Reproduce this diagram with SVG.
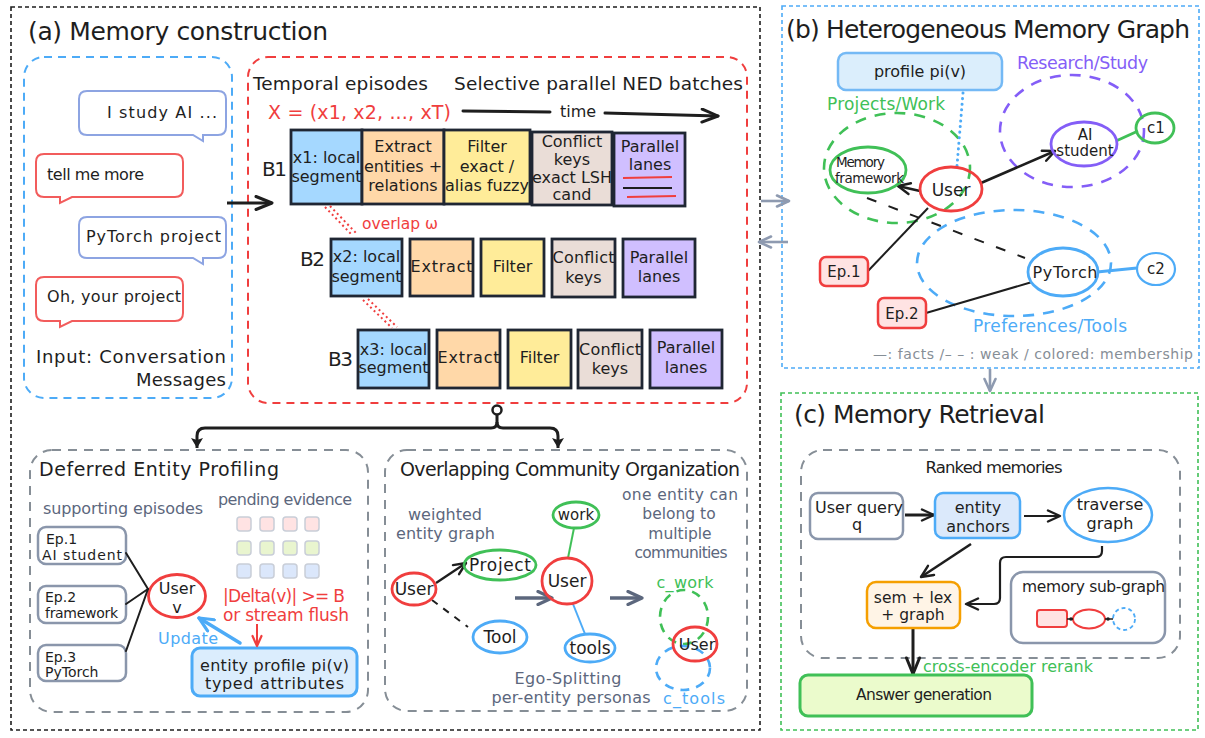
<svg xmlns="http://www.w3.org/2000/svg" width="1205" height="738" viewBox="0 0 1205 738">
  <defs>
    <style>
      text{font-family:"DejaVu Sans","Liberation Sans",sans-serif;fill:#1e1e1e;font-size:16px}
      .title{font-size:25px}
      .sub{font-size:19px}
      .lbl{font-size:20px}
      .sm{font-size:14px}
      .xs{font-size:13.5px}
      .mid{text-anchor:middle}
      .slate{fill:#5c677d}
      .red{fill:#f03e3e}
      .blue{fill:#4dabf7}
      .green{fill:#40c057}
      .purple{fill:#845ef7}
      .grey{fill:#868e96}
      .cell{stroke:#1f2633;stroke-width:2.8}
      .c-seg{fill:#a5d8ff}
      .c-ext{fill:#ffd8a8}
      .c-fil{fill:#ffec99}
      .c-con{fill:#eaddd7}
      .c-lan{fill:#d0bfff}
      .frame{fill:none;stroke-width:1.6;stroke-dasharray:4 3}
      .bubble{fill:#fff;stroke-width:2}
      .epbox{fill:#fff;stroke:#8a96ab;stroke-width:2.5}
      .wire{fill:none;stroke:#1e1e1e;stroke-width:2;stroke-linecap:round}
      .ring{fill:none;stroke-width:2.8}
      .ev{stroke:#c9ced8;stroke-width:1.5}
    </style>
    <marker id="ah" viewBox="0 0 16 14" refX="14" refY="7" markerWidth="16" markerHeight="14" markerUnits="userSpaceOnUse" orient="auto">
      <path d="M2,1.5 L14,7 L2,12.5" fill="none" stroke="#1e1e1e" stroke-width="2.4" stroke-linecap="round" stroke-linejoin="round"/>
    </marker>
    <marker id="ah-lg" viewBox="0 0 20 16" refX="18" refY="8" markerWidth="20" markerHeight="16" markerUnits="userSpaceOnUse" orient="auto">
      <path d="M2,1.5 L18,8 L2,14.5" fill="none" stroke="#1e1e1e" stroke-width="3" stroke-linecap="round" stroke-linejoin="round"/>
    </marker>
    <marker id="ah-fill" viewBox="0 0 12 14" refX="11" refY="7" markerWidth="12" markerHeight="14" markerUnits="userSpaceOnUse" orient="auto">
      <path d="M1,1 L11,7 L1,13 L3,7 Z" fill="#1e1e1e"/>
    </marker>
    <marker id="ah-grey" viewBox="0 0 16 14" refX="14" refY="7" markerWidth="16" markerHeight="14" markerUnits="userSpaceOnUse" orient="auto">
      <path d="M2,1.5 L14,7 L2,12.5" fill="none" stroke="#8e9ab0" stroke-width="2.6" stroke-linecap="round" stroke-linejoin="round"/>
    </marker>
    <marker id="ah-slate" viewBox="0 0 18 16" refX="16" refY="8" markerWidth="18" markerHeight="16" markerUnits="userSpaceOnUse" orient="auto">
      <path d="M2,1.5 L16,8 L2,14.5" fill="none" stroke="#5c677d" stroke-width="3.2" stroke-linecap="round" stroke-linejoin="round"/>
    </marker>
    <marker id="ah-blue" viewBox="0 0 18 16" refX="16" refY="8" markerWidth="18" markerHeight="16" markerUnits="userSpaceOnUse" orient="auto">
      <path d="M2,1.5 L16,8 L2,14.5" fill="none" stroke="#4dabf7" stroke-width="3.2" stroke-linecap="round" stroke-linejoin="round"/>
    </marker>
    <marker id="ah-red" viewBox="0 0 14 12" refX="12" refY="6" markerWidth="14" markerHeight="12" markerUnits="userSpaceOnUse" orient="auto">
      <path d="M2,1.5 L12,6 L2,10.5" fill="none" stroke="#f03e3e" stroke-width="2.2" stroke-linecap="round" stroke-linejoin="round"/>
    </marker>
  </defs>

  <rect width="1205" height="738" fill="#ffffff"/>

  <!-- outer panels -->
  <g id="panel-a">
    <rect class="frame" x="11" y="7" width="749" height="723" stroke="#1e1e1e"/>
    <text class="title" x="28" y="40" textLength="300">(a) Memory construction</text>
  </g>
  <g id="panel-b">
    <rect class="frame" x="782" y="6" width="417" height="362" stroke="#4dabf7"/>
    <text class="title" x="786" y="38" textLength="404">(b) Heterogeneous Memory Graph</text>
  </g>
  <g id="panel-c">
    <rect class="frame" x="781" y="393" width="417" height="337" stroke="#40c057"/>
    <text class="title" x="794" y="423" textLength="251">(c) Memory Retrieval</text>
  </g>

  <!-- conversation input -->
  <g id="input-messages">
    <rect x="24" y="57" width="208" height="341" rx="20" fill="none" stroke="#4dabf7" stroke-width="2" stroke-dasharray="8 6"/>
    <path class="bubble" stroke="#8da4e2" d="M87,91 H218 Q226,91 226,99 V127 Q226,135 218,135 H203 V141 L193,135 H87 Q79,135 79,127 V99 Q79,91 87,91 Z"/>
    <text x="107" y="118" textLength="110">I study AI ...</text>
    <path class="bubble" stroke="#f25c5c" d="M44,154 H175 Q183,154 183,162 V189 Q183,197 175,197 H72 L60,203 V197 H44 Q36,197 36,189 V162 Q36,154 44,154 Z"/>
    <text x="47" y="180" textLength="97">tell me more</text>
    <path class="bubble" stroke="#8da4e2" d="M87,217 H218 Q226,217 226,225 V250 Q226,258 218,258 H203 V264 L193,258 H87 Q79,258 79,250 V225 Q79,217 87,217 Z"/>
    <text x="86" y="242" textLength="135">PyTorch project</text>
    <path class="bubble" stroke="#f25c5c" d="M44,277 H175 Q183,277 183,285 V313 Q183,321 175,321 H72 L60,327 V321 H44 Q36,321 36,313 V285 Q36,277 44,277 Z"/>
    <text x="47" y="302" textLength="134">Oh, your project</text>
    <text x="36" y="363" style="font-size:18px" textLength="190">Input: Conversation</text>
    <text x="226" y="386" style="font-size:18px;text-anchor:end" textLength="90">Messages</text>
  </g>

  <!-- temporal episodes and NED batches -->
  <g id="episodes">
    <rect x="248" y="57" width="499" height="346" rx="20" fill="none" stroke="#f03e3e" stroke-width="2" stroke-dasharray="8 6"/>
    <text x="253" y="90" style="font-size:18.5px" textLength="175">Temporal episodes</text>
    <text x="454" y="90" style="font-size:18.5px" textLength="289">Selective parallel NED batches</text>
    <text class="red" x="268" y="119" style="font-size:19px" textLength="183">X = (x1, x2, ..., xT)</text>
    <text x="578" y="117" class="mid">time</text>
    <text class="lbl" x="262" y="176" textLength="25">B1</text>
    <text class="lbl" x="300" y="266" textLength="25">B2</text>
    <text class="lbl" x="328" y="366" textLength="25">B3</text>
    <text class="red" x="362" y="229" style="font-size:15.5px" textLength="76">overlap ω</text>
  </g>

  <!-- batch B1 -->
  <g id="b1-segment">
    <rect class="cell c-seg" x="291" y="130" width="71" height="74"/>
    <text class="mid" x="326.5" y="163">x1: local</text>
    <text class="mid" x="326.5" y="182">segment</text>
  </g>
  <g id="b1-extract">
    <rect class="cell c-ext" x="362" y="130" width="82" height="74"/>
    <text class="mid" x="403" y="152">Extract</text>
    <text class="mid" x="403" y="172">entities +</text>
    <text class="mid" x="403" y="191">relations</text>
  </g>
  <g id="b1-filter">
    <rect class="cell c-fil" x="444" y="130" width="86" height="74"/>
    <text class="mid" x="487" y="152">Filter</text>
    <text class="mid" x="487" y="172">exact /</text>
    <text class="mid" x="487" y="191">alias fuzzy</text>
  </g>
  <g id="b1-conflict">
    <rect class="cell c-con" x="532" y="132" width="80" height="73"/>
    <text class="mid" x="572" y="147">Conflict</text>
    <text class="mid" x="572" y="165">keys</text>
    <text class="mid" x="572" y="183">exact LSH</text>
    <text class="mid" x="572" y="200">cand</text>
  </g>
  <g id="b1-lanes">
    <rect class="cell c-lan" x="614" y="133" width="71" height="73"/>
    <text class="mid" x="650" y="152">Parallel</text>
    <text class="mid" x="650" y="170">lanes</text>
    <line x1="623" y1="178" x2="672" y2="177" stroke="#f03e3e" stroke-width="2"/>
    <line x1="623" y1="188" x2="672" y2="188" stroke="#1e1e1e" stroke-width="2"/>
    <line x1="627" y1="197" x2="676" y2="196" stroke="#f03e3e" stroke-width="2"/>
  </g>

  <!-- batch B2 -->
  <g id="b2-segment">
    <rect class="cell c-seg" x="331" y="239" width="71" height="57"/>
    <text class="mid" x="366.5" y="262">x2: local</text>
    <text class="mid" x="366.5" y="282">segment</text>
  </g>
  <g id="b2-extract">
    <rect class="cell c-ext" x="410" y="239" width="63" height="57"/>
    <text class="mid" x="441.5" y="272" textLength="62">Extract</text>
  </g>
  <g id="b2-filter">
    <rect class="cell c-fil" x="481" y="239" width="63" height="57"/>
    <text class="mid" x="512.5" y="272">Filter</text>
  </g>
  <g id="b2-conflict">
    <rect class="cell c-con" x="552" y="239" width="63" height="58"/>
    <text class="mid" x="583.5" y="263" textLength="62">Conflict</text>
    <text class="mid" x="583.5" y="283">keys</text>
  </g>
  <g id="b2-lanes">
    <rect class="cell c-lan" x="623" y="239" width="72" height="58"/>
    <text class="mid" x="659" y="263">Parallel</text>
    <text class="mid" x="659" y="282">lanes</text>
  </g>

  <!-- batch B3 -->
  <g id="b3-segment">
    <rect class="cell c-seg" x="358" y="330" width="71" height="58"/>
    <text class="mid" x="393.5" y="355">x3: local</text>
    <text class="mid" x="393.5" y="373">segment</text>
  </g>
  <g id="b3-extract">
    <rect class="cell c-ext" x="437" y="330" width="63" height="58"/>
    <text class="mid" x="468.5" y="363" textLength="62">Extract</text>
  </g>
  <g id="b3-filter">
    <rect class="cell c-fil" x="508" y="330" width="63" height="58"/>
    <text class="mid" x="539.5" y="363">Filter</text>
  </g>
  <g id="b3-conflict">
    <rect class="cell c-con" x="578" y="330" width="64" height="58"/>
    <text class="mid" x="610" y="355" textLength="62">Conflict</text>
    <text class="mid" x="610" y="374">keys</text>
  </g>
  <g id="b3-lanes">
    <rect class="cell c-lan" x="650" y="330" width="72" height="58"/>
    <text class="mid" x="686" y="353">Parallel</text>
    <text class="mid" x="686" y="373">lanes</text>
  </g>

  <!-- deferred entity profiling -->
  <g id="deferred-profiling">
    <rect x="30" y="450" width="338" height="262" rx="22" fill="none" stroke="#868e96" stroke-width="2" stroke-dasharray="9 7"/>
    <text class="sub" x="39" y="476" textLength="240">Deferred Entity Profiling</text>
    <text class="slate" x="43" y="514" textLength="160">supporting episodes</text>
    <text class="slate" x="218" y="505" textLength="134">pending evidence</text>
  </g>
  <g id="pending-evidence">
    <rect class="ev" x="237" y="517" width="14" height="14" rx="3" fill="#ffe3e3"/>
    <rect class="ev" x="260" y="517" width="14" height="14" rx="3" fill="#ffe3e3"/>
    <rect class="ev" x="283" y="517" width="14" height="14" rx="3" fill="#ffe3e3"/>
    <rect class="ev" x="305" y="517" width="14" height="14" rx="3" fill="#ffe3e3"/>
    <rect class="ev" x="237" y="541" width="14" height="14" rx="3" fill="#e9f5cf"/>
    <rect class="ev" x="260" y="541" width="14" height="14" rx="3" fill="#e9f5cf"/>
    <rect class="ev" x="283" y="541" width="14" height="14" rx="3" fill="#e9f5cf"/>
    <rect class="ev" x="305" y="541" width="14" height="14" rx="3" fill="#e9f5cf"/>
    <rect class="ev" x="237" y="564" width="14" height="14" rx="3" fill="#dbe7fb"/>
    <rect class="ev" x="260" y="564" width="14" height="14" rx="3" fill="#dbe7fb"/>
    <rect class="ev" x="283" y="564" width="14" height="14" rx="3" fill="#dbe7fb"/>
    <rect class="ev" x="305" y="564" width="14" height="14" rx="3" fill="#dbe7fb"/>
  </g>
  <g id="ep1-support">
    <rect class="epbox" x="38" y="527" width="88" height="37" rx="8"/>
    <text class="sm" x="46" y="544">Ep.1</text>
    <text class="sm" x="42" y="560" textLength="80">AI student</text>
  </g>
  <g id="ep2-support">
    <rect class="epbox" x="38" y="586" width="88" height="37" rx="8"/>
    <text class="sm" x="45" y="602">Ep.2</text>
    <text class="sm" x="45" y="618" textLength="73">framework</text>
  </g>
  <g id="ep3-support">
    <rect class="epbox" x="38" y="645" width="88" height="36" rx="8"/>
    <text class="sm" x="45" y="662">Ep.3</text>
    <text class="sm" x="45" y="677">PyTorch</text>
  </g>
  <g id="user-v">
    <ellipse class="ring" cx="177" cy="596" rx="28.5" ry="21.5" stroke="#f03e3e"/>
    <text class="mid" x="177" y="594" style="font-size:16px">User</text>
    <text class="mid" x="177" y="613" style="font-size:16px">v</text>
  </g>
  <g id="flush-rule">
    <text class="red" x="223" y="602" style="font-size:17px" textLength="122">|Delta(v)| &gt;= B</text>
    <text class="red" x="223" y="621" style="font-size:17px" textLength="126">or stream flush</text>
    <text class="blue" x="158" y="644" textLength="60">Update</text>
  </g>
  <g id="entity-profile">
    <rect x="192" y="648" width="165" height="48" rx="8" fill="#dbedfd" stroke="#4dabf7" stroke-width="3"/>
    <text class="mid" x="274.5" y="671" textLength="149">entity profile pi(v)</text>
    <text class="mid" x="274.5" y="689" textLength="139">typed attributes</text>
  </g>

  <!-- overlapping community organization -->
  <g id="community-organization">
    <rect x="385" y="450" width="362" height="261" rx="22" fill="none" stroke="#868e96" stroke-width="2" stroke-dasharray="9 7"/>
    <text class="sub" x="400" y="476" textLength="340">Overlapping Community Organization</text>
    <text class="slate mid" x="445" y="520">weighted</text>
    <text class="slate mid" x="445.5" y="539" textLength="99">entity graph</text>
    <text class="slate mid" x="680" y="500" style="font-size:15.5px" textLength="116">one entity can</text>
    <text class="slate mid" x="679" y="519" style="font-size:15.5px">belong to</text>
    <text class="slate mid" x="680" y="539" style="font-size:15.5px">multiple</text>
    <text class="slate mid" x="681" y="558" style="font-size:15.5px" textLength="93">communities</text>
    <text class="slate mid" x="568" y="684" textLength="107">Ego-Splitting</text>
    <text class="slate mid" x="571" y="703" textLength="159">per-entity personas</text>
  </g>
  <g id="cw-ring">
    <ellipse cx="684" cy="617" rx="24" ry="27" fill="none" stroke="#40c057" stroke-width="2.6" stroke-dasharray="9 7"/>
    <text class="green mid" x="685" y="588" textLength="57">c_work</text>
  </g>
  <g id="ct-ring">
    <ellipse cx="683" cy="668" rx="27" ry="22" fill="none" stroke="#4dabf7" stroke-width="2.6" stroke-dasharray="9 7"/>
    <text class="blue mid" x="694" y="704" textLength="62">c_tools</text>
  </g>

  <!-- heterogeneous memory graph: community regions -->
  <g id="hg-projects-work">
    <ellipse cx="897" cy="168" rx="73" ry="55" fill="none" stroke="#40c057" stroke-width="2.6" stroke-dasharray="11 9"/>
    <text class="green" x="827" y="110" style="font-size:17px" textLength="118">Projects/Work</text>
  </g>
  <g id="hg-research-study">
    <ellipse cx="1072" cy="131" rx="72" ry="56" fill="none" stroke="#845ef7" stroke-width="2.6" stroke-dasharray="11 9"/>
    <text class="purple" x="1017" y="69" style="font-size:17.5px" textLength="131">Research/Study</text>
  </g>
  <g id="hg-preferences-tools">
    <ellipse cx="1014" cy="263" rx="97" ry="53" fill="none" stroke="#4dabf7" stroke-width="2.6" stroke-dasharray="11 9"/>
    <text class="blue" x="973" y="332" style="font-size:17px" textLength="154">Preferences/Tools</text>
  </g>

  <!-- memory retrieval frame -->
  <g id="ranked-memories">
    <rect x="801" y="450" width="379" height="208" rx="22" fill="none" stroke="#868e96" stroke-width="2" stroke-dasharray="9 7"/>
    <text class="mid" x="994" y="473" style="font-size:16.5px" textLength="137">Ranked memories</text>
  </g>

  <!-- connectors -->
  <g id="connectors">
    <!-- between panels -->
    <line x1="761" y1="201" x2="789" y2="201" stroke="#8e9ab0" stroke-width="2.6" marker-end="url(#ah-grey)"/>
    <line x1="788" y1="242" x2="759" y2="242" stroke="#8e9ab0" stroke-width="2.6" marker-end="url(#ah-grey)"/>
    <line x1="990" y1="369" x2="990" y2="391" stroke="#8e9ab0" stroke-width="2.6" marker-end="url(#ah-grey)"/>

    <!-- input to first batch -->
    <line x1="227" y1="203" x2="272" y2="203" stroke="#1e1e1e" stroke-width="3" marker-end="url(#ah-lg)"/>
    <!-- time axis -->
    <line x1="463" y1="111" x2="550" y2="112" stroke="#1e1e1e" stroke-width="3" stroke-linecap="round"/>
    <line x1="605" y1="113" x2="718" y2="116" stroke="#1e1e1e" stroke-width="3" stroke-linecap="round" marker-end="url(#ah-lg)"/>
    <!-- overlap windows -->
    <g stroke="#f03e3e" stroke-width="2" stroke-dasharray="2 3" fill="none">
      <line x1="325" y1="207" x2="352" y2="235"/>
      <line x1="330" y1="206" x2="357" y2="234"/>
      <line x1="363" y1="300" x2="392" y2="328"/>
      <line x1="368" y1="299" x2="397" y2="327"/>
    </g>
    <!-- split to profiling / communities -->
    <path d="M497,414 V422 Q497,428 491,428 H205 Q197,428 197,436 V448" fill="none" stroke="#1e1e1e" stroke-width="3" marker-end="url(#ah-fill)"/>
    <path d="M497,422 Q497,428 503,428 H550 Q558,428 558,436 V448" fill="none" stroke="#1e1e1e" stroke-width="3" marker-end="url(#ah-fill)"/>
    <circle cx="497" cy="410" r="4.5" fill="#ffffff" stroke="#1e1e1e" stroke-width="2.5"/>

    <!-- deferred profiling -->
    <line class="wire" x1="126" y1="553" x2="148" y2="589"/>
    <line class="wire" x1="126" y1="604" x2="148" y2="589"/>
    <line class="wire" x1="126" y1="651" x2="148" y2="589"/>
    <line x1="240" y1="643" x2="199" y2="618" stroke="#4dabf7" stroke-width="3.5" stroke-linecap="round" marker-end="url(#ah-blue)"/>
    <line x1="257" y1="624" x2="257" y2="646" stroke="#f03e3e" stroke-width="2" marker-end="url(#ah-red)"/>

    <!-- community organization -->
    <line x1="436" y1="583" x2="466" y2="563" stroke="#1e1e1e" stroke-width="2.2" marker-end="url(#ah)"/>
    <line x1="432" y1="600" x2="468" y2="627" stroke="#1e1e1e" stroke-width="2" stroke-dasharray="7 7"/>
    <line x1="515" y1="598" x2="552" y2="598" stroke="#5c677d" stroke-width="3.5" marker-end="url(#ah-slate)"/>
    <line x1="610" y1="598" x2="642" y2="598" stroke="#5c677d" stroke-width="3.5" marker-end="url(#ah-slate)"/>
    <line x1="574" y1="528" x2="568" y2="558" stroke="#40c057" stroke-width="2"/>
    <line x1="573" y1="604" x2="585" y2="634" stroke="#4dabf7" stroke-width="2"/>

    <!-- heterogeneous memory graph -->
    <line x1="963" y1="93" x2="957" y2="166" stroke="#4dabf7" stroke-width="3" stroke-linecap="round" stroke-dasharray="0.1 5.5"/>
    <line x1="920" y1="191" x2="898" y2="186" stroke="#1e1e1e" stroke-width="2.6" marker-end="url(#ah)"/>
    <line x1="981" y1="183" x2="1055" y2="151" stroke="#1e1e1e" stroke-width="2.6" marker-end="url(#ah)"/>
    <line x1="1116" y1="141" x2="1138" y2="131" stroke="#40c057" stroke-width="3"/>
    <line x1="867" y1="198" x2="1025" y2="258" stroke="#1e1e1e" stroke-width="2" stroke-dasharray="10 13"/>
    <line x1="928" y1="208" x2="868" y2="271" stroke="#1e1e1e" stroke-width="2"/>
    <line x1="926" y1="313" x2="1032" y2="282" stroke="#1e1e1e" stroke-width="2"/>
    <line x1="1097" y1="272" x2="1137" y2="268" stroke="#4dabf7" stroke-width="3"/>

    <!-- retrieval -->
    <line x1="905" y1="515" x2="934" y2="515" stroke="#1e1e1e" stroke-width="3" marker-end="url(#ah)"/>
    <line x1="1024" y1="516" x2="1060" y2="516" stroke="#1e1e1e" stroke-width="2.2" marker-end="url(#ah)"/>
    <line x1="971" y1="544" x2="921" y2="577" stroke="#1e1e1e" stroke-width="2.6" marker-end="url(#ah)"/>
    <path d="M1102,546 V551 Q1102,557 1096,557 H1006 Q1000,557 1000,563 V598 Q1000,604 994,604 H966" fill="none" stroke="#1e1e1e" stroke-width="2.2" marker-end="url(#ah)"/>
    <line x1="913" y1="629" x2="913" y2="674" stroke="#1e1e1e" stroke-width="3" marker-end="url(#ah-lg)"/>
  </g>

  <!-- community organization nodes -->
  <g id="co-user">
    <ellipse class="ring" cx="414" cy="589" rx="22" ry="16" stroke="#f03e3e"/>
    <text class="mid" x="414" y="595" style="font-size:17px">User</text>
  </g>
  <g id="co-project">
    <ellipse class="ring" cx="500" cy="565" rx="36" ry="15" stroke="#40c057"/>
    <text class="mid" x="500" y="571" style="font-size:17px" textLength="62">Project</text>
  </g>
  <g id="co-tool">
    <ellipse class="ring" cx="500" cy="637" rx="27" ry="16" stroke="#4dabf7"/>
    <text class="mid" x="500" y="643" style="font-size:17px">Tool</text>
  </g>
  <g id="ego-user">
    <ellipse class="ring" cx="567" cy="581" rx="25" ry="23" stroke="#f03e3e"/>
    <text class="mid" x="567" y="587" style="font-size:17px">User</text>
  </g>
  <g id="ego-work">
    <ellipse class="ring" cx="576" cy="515" rx="23" ry="13" stroke="#40c057"/>
    <text class="mid" x="576" y="520" style="font-size:15px">work</text>
  </g>
  <g id="ego-tools">
    <ellipse class="ring" cx="590" cy="648" rx="25" ry="14" stroke="#4dabf7"/>
    <text class="mid" x="590" y="654" style="font-size:17px">tools</text>
  </g>
  <g id="split-user">
    <ellipse class="ring" cx="695" cy="644" rx="22" ry="17" stroke="#f03e3e"/>
    <text class="mid" x="697" y="650" style="font-size:16px">User</text>
  </g>

  <!-- heterogeneous memory graph nodes -->
  <g id="hg-profile">
    <rect x="838" y="53" width="164" height="37" rx="8" fill="#dbeefc" stroke="#74b9f5" stroke-width="2.5"/>
    <text class="mid" x="920" y="77">profile pi(v)</text>
  </g>
  <g id="hg-memory-framework">
    <ellipse class="ring" cx="868" cy="170" rx="38" ry="23" stroke="#40c057"/>
    <text class="xs" x="836" y="167" textLength="49">Memory</text>
    <text class="xs" x="835" y="183" textLength="69">framework</text>
  </g>
  <g id="hg-user">
    <ellipse class="ring" cx="951" cy="189" rx="31" ry="22" stroke="#f03e3e"/>
    <text class="mid" x="951" y="196" style="font-size:17px">User</text>
  </g>
  <g id="hg-ai-student">
    <ellipse class="ring" cx="1084" cy="144" rx="33" ry="22" stroke="#845ef7"/>
    <text class="mid" x="1085" y="140" style="font-size:15px">AI</text>
    <text class="mid" x="1085" y="156" style="font-size:15px">student</text>
  </g>
  <g id="hg-c1">
    <ellipse class="ring" cx="1155" cy="128" rx="19" ry="15" stroke="#40c057"/>
    <text class="mid" x="1156" y="133" style="font-size:15px">c1</text>
  </g>
  <g id="hg-pytorch">
    <ellipse class="ring" cx="1063" cy="272" rx="35" ry="24" stroke="#4dabf7"/>
    <text class="mid" x="1065" y="278" textLength="65">PyTorch</text>
  </g>
  <g id="hg-c2">
    <ellipse class="ring" cx="1156" cy="269" rx="19" ry="16" stroke="#4dabf7" style="stroke-width:2.2"/>
    <text class="mid" x="1156" y="274" style="font-size:15px">c2</text>
  </g>
  <g id="hg-ep1">
    <rect x="820" y="257" width="48" height="29" rx="6" fill="#ffe3e3" stroke="#f03e3e" stroke-width="2.5"/>
    <text class="mid" x="844" y="277" style="font-size:15px">Ep.1</text>
  </g>
  <g id="hg-ep2">
    <rect x="878" y="298" width="48" height="30" rx="6" fill="#ffe3e3" stroke="#f03e3e" stroke-width="2.5"/>
    <text class="mid" x="902" y="319" style="font-size:15px">Ep.2</text>
  </g>
  <g id="hg-legend">
    <text class="grey sm" x="873" y="359" textLength="320">—: facts /– – : weak / colored: membership</text>
  </g>

  <!-- memory retrieval nodes -->
  <g id="rt-query">
    <rect x="810" y="493" width="93" height="46" rx="8" fill="#ffffff" stroke="#8a96ab" stroke-width="2.5"/>
    <text x="815" y="513" textLength="88">User query</text>
    <text class="mid" x="857" y="530">q</text>
  </g>
  <g id="rt-anchors">
    <rect x="935" y="493" width="85" height="45" rx="8" fill="#dbe9fb" stroke="#4dabf7" stroke-width="2.5"/>
    <text class="mid" x="978" y="513">entity</text>
    <text class="mid" x="978" y="532">anchors</text>
  </g>
  <g id="rt-traverse">
    <ellipse cx="1108" cy="515" rx="44" ry="27" fill="#ffffff" stroke="#4dabf7" stroke-width="2.5"/>
    <text class="mid" x="1110" y="510">traverse</text>
    <text class="mid" x="1110" y="529">graph</text>
  </g>
  <g id="rt-scoring">
    <rect x="867" y="582" width="93" height="46" rx="9" fill="#fff4e6" stroke="#f59f00" stroke-width="2.5"/>
    <text class="mid" x="913" y="603" style="font-size:15.5px">sem + lex</text>
    <text class="mid" x="913" y="620" style="font-size:15.5px">+ graph</text>
  </g>
  <g id="rt-subgraph">
    <rect x="1011" y="572" width="154" height="71" rx="12" fill="#ffffff" stroke="#8a96ab" stroke-width="2.5"/>
    <text x="1022" y="592" style="font-size:15.5px" textLength="143">memory sub-graph</text>
    <rect x="1037" y="610" width="30" height="17" rx="3" fill="#ffe3e3" stroke="#f03e3e" stroke-width="2"/>
    <ellipse cx="1089" cy="619" rx="16" ry="9.5" fill="#ffffff" stroke="#f03e3e" stroke-width="2"/>
    <circle cx="1124" cy="619" r="11" fill="#ffffff" stroke="#4dabf7" stroke-width="1.8" stroke-dasharray="4 3"/>
    <line x1="1067" y1="619" x2="1073" y2="619" stroke="#1e1e1e" stroke-width="1.5"/>
    <line x1="1105" y1="619" x2="1113" y2="619" stroke="#1e1e1e" stroke-width="1.5"/>
    <circle cx="1071" cy="619" r="1.8" fill="#1e1e1e"/>
    <circle cx="1108" cy="619" r="1.8" fill="#1e1e1e"/>
  </g>
  <g id="rt-rerank">
    <text class="green" x="923" y="672" textLength="170">cross-encoder rerank</text>
  </g>
  <g id="rt-answer">
    <rect x="800" y="675" width="232" height="41" rx="8" fill="#ebfbcc" stroke="#40c057" stroke-width="3"/>
    <text class="mid" x="924" y="700" style="font-size:15.5px" textLength="136">Answer generation</text>
  </g>
</svg>
